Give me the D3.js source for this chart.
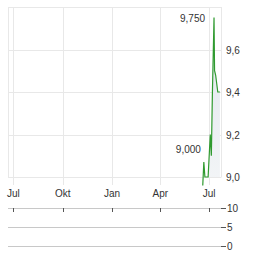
<!DOCTYPE html>
<html>
<head>
<meta charset="utf-8">
<script src="https://cdn.jsdelivr.net/npm/d3@7"></script>
<style>
  body { margin: 0; background: #fff; }
  text { font-family: "Liberation Sans", Arial, sans-serif; font-size: 10px; fill: #333; }
</style>
</head>
<body>
<svg id="chart" width="264" height="255"></svg>
<script>
const priceDates = ["2023-06-19", "2023-06-21", "2023-06-23", "2023-06-29", "2023-07-03", "2023-07-05",
    "2023-07-07", "2023-07-10", "2023-07-11", "2023-07-13", "2023-07-17", "2023-07-21"];
const priceValues = [8.96, 9.07, 9.0, 9.0, 9.2, 9.1, 9.4, 9.75, 9.5, 9.48, 9.4, 9.4];
const highLabel = 9.75;
const lowLabel = 9.0;
const monthTicks = ["2022-07-01", "2022-10-01", "2023-01-01", "2023-04-01", "2023-07-01"];
const monthNames = ["Jul", "Okt", "Jan", "Apr", "Jul"];
const priceTicks = [9.0, 9.2, 9.4, 9.6];
const volumeTicks = [0, 5, 10];

const parse = d3.timeParse("%Y-%m-%d");
const deLocale = d3.formatLocale({ decimal: ",", thousands: ".", grouping: [3], currency: ["", "€"] });
const tickFmt = deLocale.format(".1f");
const labelFmt = deLocale.format(".3f");

const plotLeft = 8, plotRight = 221, plotTop = 7, plotBottom = 177;

const x = d3.scaleTime()
    .domain([parse("2022-06-21"), parse("2023-07-23")])
    .range([plotLeft, plotRight]);
const y = d3.scaleLinear().domain([9.0, 9.8]).range([plotBottom, plotTop]);
const yVol = d3.scaleLinear().domain([0, 10]).range([246, 208]);

const svg = d3.select("#chart");
const grid = "#e8e8e8";

const defs = svg.append("defs");
const grad = defs.append("linearGradient")
    .attr("id", "fill").attr("x1", 0).attr("y1", 0).attr("x2", 0).attr("y2", 1);
grad.append("stop").attr("offset", "0%").attr("stop-color", "#dfe5ec");
grad.append("stop").attr("offset", "100%").attr("stop-color", "#f3f5f7");

// horizontal grid
svg.append("g").selectAll("line")
    .data(priceTicks.concat([9.8]))
    .join("line")
    .attr("x1", plotLeft).attr("x2", plotRight)
    .attr("y1", d => Math.round(y(d)) + 0.5).attr("y2", d => Math.round(y(d)) + 0.5)
    .attr("stroke", grid);

// vertical grid + ticks
svg.append("g").selectAll("line")
    .data(monthTicks)
    .join("line")
    .attr("x1", d => Math.round(x(parse(d))) + 0.5).attr("x2", d => Math.round(x(parse(d))) + 0.5)
    .attr("y1", plotTop).attr("y2", plotBottom + 8)
    .attr("stroke", grid);

// frame
svg.append("line").attr("x1", plotLeft + 0.5).attr("x2", plotLeft + 0.5).attr("y1", plotTop).attr("y2", plotBottom + 0.5).attr("stroke", grid);
svg.append("line").attr("x1", plotRight + 0.5).attr("x2", plotRight + 0.5).attr("y1", plotTop).attr("y2", plotBottom + 0.5).attr("stroke", grid);

const data = priceDates.map((d, i) => ({ date: parse(d), value: priceValues[i] }));

const area = d3.area()
    .x(d => x(d.date))
    .y0(plotBottom)
    .y1(d => y(d.value));
svg.append("path")
    .datum(data)
    .attr("d", area)
    .attr("fill", "url(#fill)");

const line = d3.line()
    .x(d => x(d.date))
    .y(d => y(d.value));
svg.append("path")
    .datum(data)
    .attr("d", line)
    .attr("fill", "none")
    .attr("stroke", "#2f9a2f")
    .attr("stroke-width", 1.2);

// high / low labels
const hi = data.find(d => d.value === highLabel);
svg.append("text")
    .attr("x", x(hi.date) - 9).attr("y", y(highLabel) + 4)
    .attr("text-anchor", "end")
    .text(labelFmt(highLabel));
const lo = data.find(d => d.value === lowLabel);
svg.append("text")
    .attr("x", x(lo.date) - 4).attr("y", y(lowLabel) - 24)
    .attr("text-anchor", "end")
    .text(labelFmt(lowLabel));

// price axis
svg.append("g").selectAll("text")
    .data(priceTicks)
    .join("text")
    .attr("x", 226).attr("y", d => y(d) + 4)
    .text(d => tickFmt(d));

// month labels
svg.append("g").selectAll("text")
    .data(monthTicks)
    .join("text")
    .attr("x", d => x(parse(d)))
    .attr("y", 197)
    .attr("text-anchor", "middle")
    .text((d, i) => monthNames[i]);

// volume panel
const vol = svg.append("g");
vol.selectAll("line.h")
    .data(volumeTicks)
    .join("line")
    .attr("class", "h")
    .attr("x1", plotLeft).attr("x2", plotRight + 5)
    .attr("y1", d => Math.round(yVol(d)) + 0.5).attr("y2", d => Math.round(yVol(d)) + 0.5)
    .attr("stroke", "#c8c8c8");
vol.selectAll("line.t")
    .data(monthTicks)
    .join("line")
    .attr("class", "t")
    .attr("x1", d => Math.round(x(parse(d))) + 0.5).attr("x2", d => Math.round(x(parse(d))) + 0.5)
    .attr("y1", Math.round(yVol(10))).attr("y2", Math.round(yVol(10)) + 4)
    .attr("stroke", "#555");
vol.selectAll("line.r")
    .data(volumeTicks)
    .join("line")
    .attr("class", "r")
    .attr("x1", plotRight).attr("x2", plotRight + 5)
    .attr("y1", d => Math.round(yVol(d)) + 0.5).attr("y2", d => Math.round(yVol(d)) + 0.5)
    .attr("stroke", "#555");
vol.selectAll("text")
    .data(volumeTicks)
    .join("text")
    .attr("x", 227).attr("y", d => yVol(d) + 4)
    .text(d => d);
</script>
</body>
</html>
